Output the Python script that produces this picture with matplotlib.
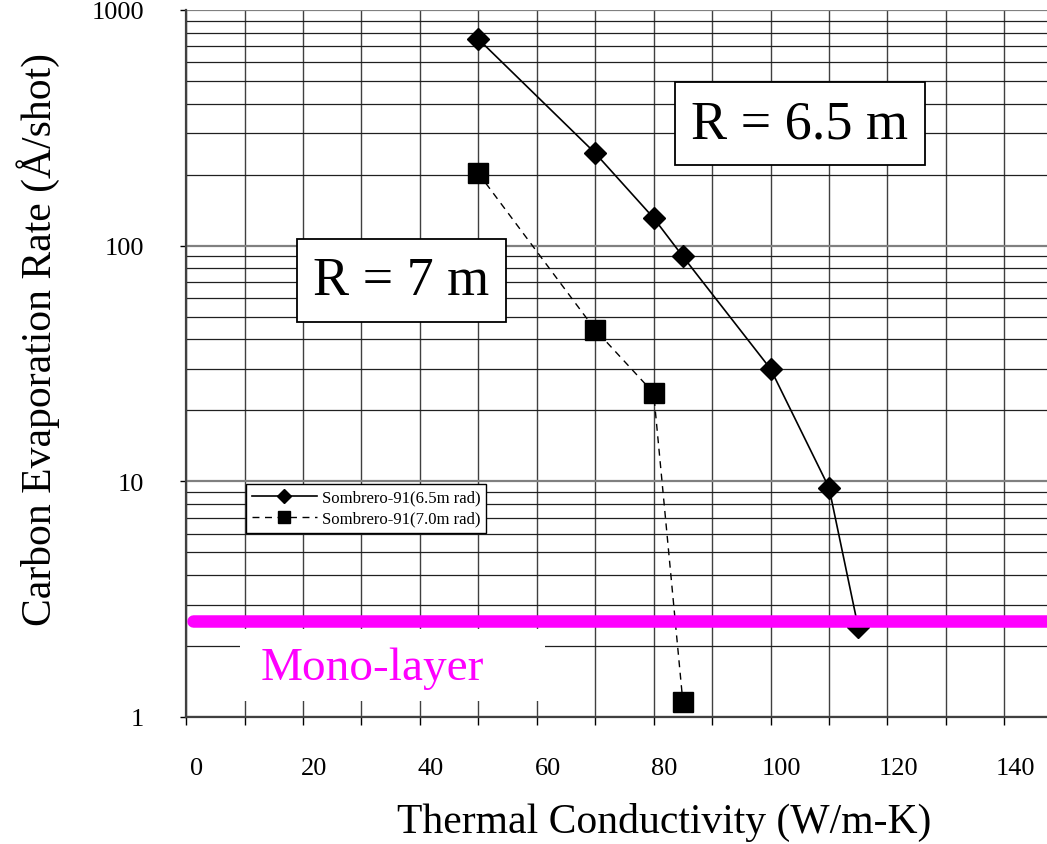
import numpy as np
import matplotlib
matplotlib.use('Agg')
import matplotlib.pyplot as plt
from matplotlib.ticker import LogLocator, FixedLocator, NullFormatter
from matplotlib.transforms import ScaledTranslation
from matplotlib.patches import Rectangle

plt.rcParams['font.family'] = ['Liberation Serif', 'DejaVu Serif']

# data
k_65 = [50, 70, 80, 85, 100, 110, 115]
rate_65 = [753, 247, 131, 90, 30, 9.4, 2.4]
k_70 = [50, 70, 80, 85]
rate_70 = [203, 44, 23.7, 1.16]
monolayer = 2.55

x_ticks = [0, 20, 40, 60, 80, 100, 120, 140]
y_ticks = [1, 10, 100, 1000]
y_labels = ['1', '10', '100', '1000']

fig = plt.figure(figsize=(10.47, 8.45), dpi=100)
ax = fig.add_axes([0.1777, 0.1503, 0.8223, 0.8367])

ax.set_yscale('log')
ax.set_xlim(0, 147.3)
ax.set_ylim(1, 1000)

ax.xaxis.set_major_locator(FixedLocator(x_ticks))
ax.xaxis.set_minor_locator(FixedLocator(np.arange(10, 150, 20)))
ax.yaxis.set_major_locator(FixedLocator(y_ticks))
ax.yaxis.set_minor_locator(LogLocator(base=10, subs=np.arange(2, 10)))
ax.yaxis.set_minor_formatter(NullFormatter())
ax.set_yticklabels(y_labels)

ax.grid(which='major', axis='y', color='#808080', lw=1.6)
ax.grid(which='minor', axis='y', color='#202020', lw=0.9)
ax.grid(which='both', axis='x', color='#404040', lw=1.0)
ax.set_axisbelow(True)

ax.tick_params(axis='x', which='both', direction='out', length=6, width=1,
               labelsize=19, pad=23)
ax.tick_params(axis='y', which='major', direction='out', length=4, width=1,
               labelsize=19, pad=26)
ax.tick_params(axis='y', which='minor', length=0)

for lab in ax.get_xticklabels():
    lab.set_transform(lab.get_transform() + ScaledTranslation(0.11, 0, fig.dpi_scale_trans))

for s in ['right', 'top']:
    ax.spines[s].set_visible(False)
ax.spines['left'].set_color('#404040')
ax.spines['left'].set_linewidth(1.6)
ax.spines['bottom'].set_color('#404040')
ax.spines['bottom'].set_linewidth(1.6)

ax.plot(k_65, rate_65, color='black', lw=1.2, marker='D', ms=11.5,
        label='Sombrero-91(6.5m rad)', zorder=3)
ax.plot(k_70, rate_70, color='black', lw=1.0, ls=(0, (5, 4)), marker='s', ms=14,
        label='Sombrero-91(7.0m rad)', zorder=3)

ax.axhline(monolayer, xmin=0.008, xmax=1, color='#FF00FF', lw=9,
           solid_capstyle='round', zorder=4)

# white patch behind the Mono-layer label
ax.add_patch(Rectangle((0.0627, 0.0226), 0.354, 0.102, transform=ax.transAxes,
                       facecolor='white', edgecolor='none', zorder=2))
ax.text(0.216, 0.07, 'Mono-layer', transform=ax.transAxes, color='#FF00FF',
        fontsize=34, ha='center', va='center', zorder=5)

box = dict(boxstyle='square,pad=0.3', facecolor='white', edgecolor='black', lw=1.3)
ax.text(0.713, 0.839, 'R = 6.5 m', transform=ax.transAxes, fontsize=39,
        ha='center', va='center', bbox=box, zorder=5)
ax.text(0.25, 0.617, 'R = 7 m', transform=ax.transAxes, fontsize=39,
        ha='center', va='center', bbox=box, zorder=5)

leg = ax.legend(loc='upper left', bbox_to_anchor=(0.0697, 0.3296), borderaxespad=0,
                fontsize=12, markerscale=0.65, fancybox=False, framealpha=1,
                edgecolor='black', handlelength=3.9, handletextpad=0.3,
                borderpad=0.35, labelspacing=0.3)
leg.get_frame().set_linewidth(1.0)
leg.set_zorder(6)

ax.set_xlabel('Thermal Conductivity (W/m-K)', fontsize=30)
ax.xaxis.set_label_coords(0.555, -0.12)
ax.set_ylabel('Carbon Evaporation Rate (Å/shot)', fontsize=30)
ax.yaxis.set_label_coords(-0.146, 0.535)

fig.savefig('out.png', dpi=100)
